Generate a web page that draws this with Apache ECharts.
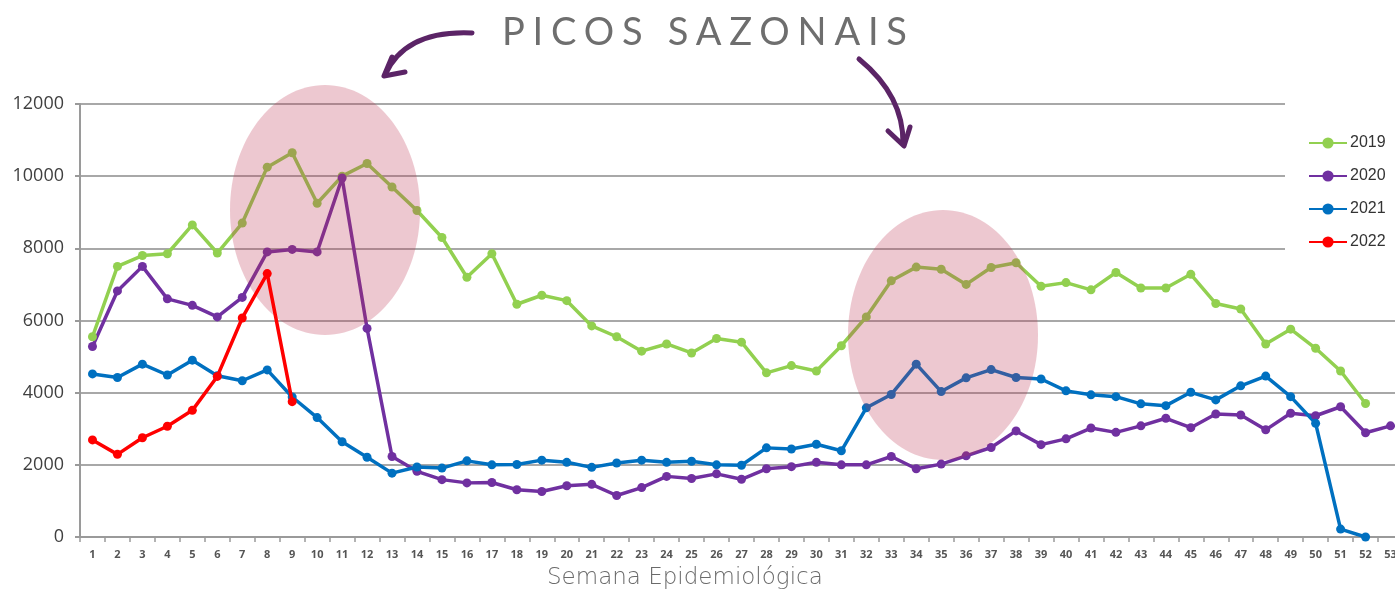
<!DOCTYPE html>
<html>
<head>
<meta charset="utf-8">
<script src="https://cdn.jsdelivr.net/npm/echarts@6/dist/echarts.min.js"></script>
<style>
  html, body { margin: 0; padding: 0; background: #fff; }
  #wrap { position: relative; width: 1395px; height: 594px; overflow: hidden; }
  #main { width: 1395px; height: 594px; }
  #titulo {
    position: absolute; left: 502px; top: 11px;
    font-family: Lato, "Open Sans", sans-serif; font-size: 38px; line-height: 38px;
    letter-spacing: 7.8px; color: #6e6e6e; white-space: nowrap;
  }
</style>
</head>
<body>
<div id="wrap">
  <div id="main"></div>
  <div id="titulo">PICOS SAZONAIS</div>
</div>
<script>
// semanas epidemiologicas
var semanas = ['1','2','3','4','5','6','7','8','9','10','11','12','13','14','15','16','17','18','19','20',
  '21','22','23','24','25','26','27','28','29','30','31','32','33','34','35','36','37','38','39','40',
  '41','42','43','44','45','46','47','48','49','50','51','52','53'];

var anos = ['2019', '2020', '2021', '2022'];
var cores = ['#92d050', '#7030a0', '#0070c0', '#ff0000'];

var casos2019 = [5550,7500,7800,7850,8650,7870,8700,10250,10650,9250,
  10000,10350,9700,9050,8300,7200,7850,6450,6700,6550,
  5850,5550,5150,5350,5100,5500,5400,4550,4750,4600,
  5300,6100,7100,7480,7420,7000,7470,7600,6950,7050,
  6850,7330,6900,6900,7280,6470,6320,5350,5760,5230,
  4600,3700,null];
var casos2020 = [5280,6820,7500,6600,6420,6100,6640,7900,7970,7900,
  9950,5780,2230,1820,1590,1500,1510,1310,1260,1420,
  1460,1150,1370,1680,1620,1750,1600,1890,1950,2070,
  2000,2000,2230,1890,2020,2250,2480,2940,2560,2720,
  3020,2900,3080,3290,3030,3410,3380,2970,3430,3360,
  3610,2890,3080];
var casos2021 = [4520,4420,4790,4490,4900,4470,4330,4630,3880,3310,
  2640,2210,1770,1940,1910,2110,2000,2010,2130,2070,
  1930,2050,2130,2070,2100,2000,1990,2470,2440,2570,
  2390,3580,3950,4790,4030,4410,4640,4420,4380,4050,
  3940,3890,3690,3640,4010,3800,4190,4460,3890,3150,
  220,0,null];
var casos2022 = [2690,2290,2750,3070,3510,4450,6070,7300,3750];

var dados = [casos2019, casos2020, casos2021, casos2022];

var myChart = echarts.init(document.getElementById('main'));

function serie(i) {
  return {
    name: anos[i],
    type: 'line',
    data: dados[i],
    z: i == 3 ? 20 : 2,
    symbol: 'circle',
    symbolSize: 9,
    connectNulls: false,
    itemStyle: { color: cores[i] },
    lineStyle: { color: cores[i], width: 3.5 }
  };
}

var arco = '#5b2466';

var option = {
  animation: false,
  backgroundColor: '#fff',
  textStyle: { fontFamily: '"Open Sans", sans-serif' },
  // a grade passa um pouco da borda direita, como no original
  grid: { left: 80, width: 1323, top: 104, bottom: 57, outerBoundsMode: 'none', containLabel: false },
  legend: {
    data: anos,
    orient: 'vertical',
    left: 1285,
    top: 95,
    padding: [40, 20, 22, 23],
    backgroundColor: '#fff',
    itemWidth: 38,
    itemHeight: 14,
    itemGap: 17,
    textStyle: { fontSize: 16, color: '#333', fontFamily: '"Liberation Sans", sans-serif', padding: [0, 0, 0, -2] }
  },
  xAxis: {
    type: 'category',
    data: semanas,
    boundaryGap: true,
    axisLine: { lineStyle: { color: '#9a9a9a', width: 2 } },
    axisTick: { show: true, length: 5, lineStyle: { color: '#9a9a9a', width: 1.5 } },
    axisLabel: { interval: 0, fontSize: 11, fontWeight: 'bold', color: '#555', margin: 12 },
    splitLine: { show: false }
  },
  yAxis: {
    type: 'value',
    min: 0,
    max: 12000,
    interval: 2000,
    axisLine: { show: true, lineStyle: { color: '#9a9a9a', width: 2 } },
    axisTick: { show: true, length: 5, lineStyle: { color: '#9a9a9a', width: 2 } },
    axisLabel: { fontSize: 18, color: '#404040', margin: 16, formatter: function (v) { return String(v); } },
    splitLine: { lineStyle: { color: '#a8a8a8', width: 2 } }
  },
  graphic: [
    // elipses dos picos
    { type: 'ellipse', z: 10, shape: { cx: 325, cy: 210, rx: 95, ry: 125 },
      style: { fill: 'rgba(190,50,80,0.27)' }, silent: true },
    { type: 'ellipse', z: 10, shape: { cx: 943, cy: 335, rx: 95, ry: 125 },
      style: { fill: 'rgba(190,50,80,0.27)' }, silent: true },
    // setas
    { type: 'bezierCurve', z: 30, shape: { x1: 472, y1: 33, cpx1: 405, cpy1: 30, x2: 385, y2: 75 },
      style: { stroke: arco, lineWidth: 5, fill: null, lineCap: 'round' } },
    { type: 'polyline', z: 30, shape: { points: [[392, 57], [384, 76], [405, 72]] },
      style: { stroke: arco, lineWidth: 5, fill: null, lineCap: 'round', lineJoin: 'round' } },
    { type: 'bezierCurve', z: 30, shape: { x1: 859, y1: 59, cpx1: 904, cpy1: 96, x2: 903, y2: 144 },
      style: { stroke: arco, lineWidth: 5, fill: null, lineCap: 'round' } },
    { type: 'polyline', z: 30, shape: { points: [[888, 131], [904, 146], [910, 127]] },
      style: { stroke: arco, lineWidth: 5, fill: null, lineCap: 'round', lineJoin: 'round' } },
    // titulo do eixo x
    { type: 'text', left: 547, top: 567, z: 30,
      style: { text: 'Semana Epidemiológica', font: '200 23px "DejaVu Sans", sans-serif', fill: '#6a6a6a' } }
  ],
  series: [serie(0), serie(1), serie(2), serie(3)]
};

myChart.setOption(option, true);
</script>
</body>
</html>
